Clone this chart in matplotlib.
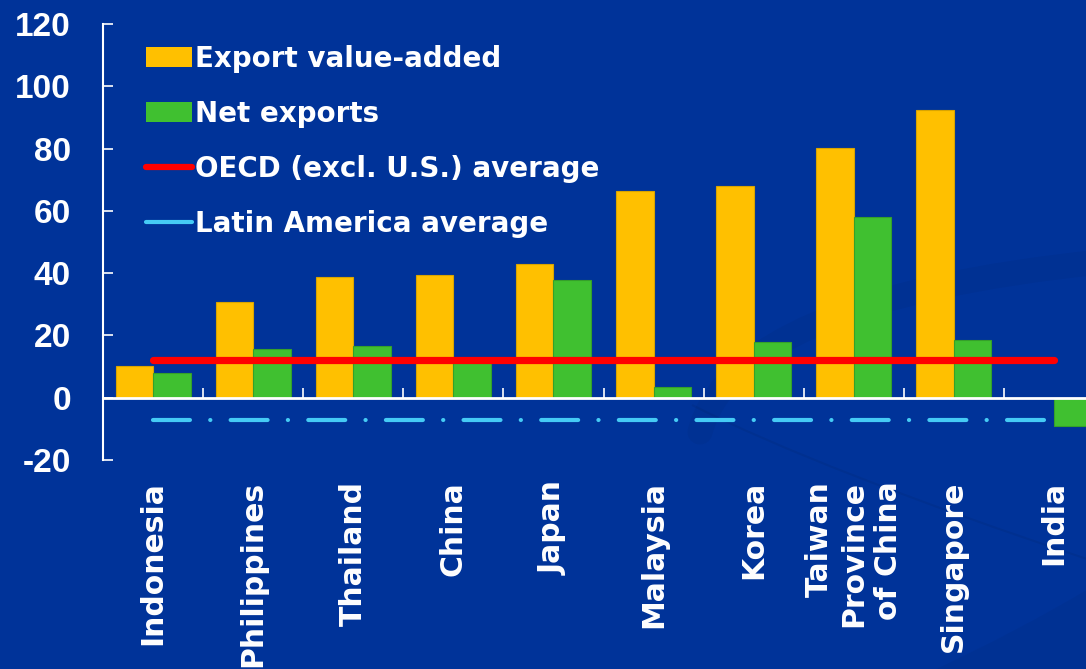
import numpy as np
import matplotlib
matplotlib.use("Agg")
import matplotlib.pyplot as plt
from matplotlib.patches import Patch, PathPatch
from matplotlib.path import Path
from matplotlib.lines import Line2D
from matplotlib.ticker import FixedLocator

# Data
countries = ["Indonesia", "Philippines", "Thailand", "China", "Japan",
             "Malaysia", "Korea", "Taiwan\nProvince\nof China", "Singapore", "India"]
export_value_added = [10.3, 30.8, 38.9, 39.5, 43.0, 66.5, 67.9, 80.2, 92.5, np.nan]
net_exports = [8.0, 15.8, 16.7, 12.0, 37.9, 3.5, 18.0, 58.0, 18.5, -9.2]
oecd_avg = 12.0
latam_avg = -7.0
y_ticks = [-20, 0, 20, 40, 60, 80, 100, 120]

BG = "#003399"
ORANGE = "#FFC000"
GREEN = "#40C030"
RED = "#FF0000"
CYAN = "#45CBF5"

plt.rcParams["lines.scale_dashes"] = False
plt.rcParams["axes.unicode_minus"] = False

W, H = 1086, 669
fig = plt.figure(figsize=(W / 100, H / 100), dpi=100, facecolor=BG)


def px(x, y):
    return (x / W, 1 - y / H)


# Faint background swooshes
swoosh = Path([px(700, 432), px(735, 300), px(1100, 262)],
              [Path.MOVETO, Path.CURVE3, Path.CURVE3])
fig.patches.append(PathPatch(swoosh, transform=fig.transFigure, fill=False,
                             edgecolor="black", alpha=0.04, lw=18,
                             capstyle="round", zorder=-2))
arc = Path([px(692, 405), px(820, 470), px(1090, 560)],
           [Path.MOVETO, Path.CURVE3, Path.CURVE3])
fig.patches.append(PathPatch(arc, transform=fig.transFigure, fill=False,
                             edgecolor="black", alpha=0.06, lw=1.5, zorder=-2))
corner = Path([px(930, 672), px(1020, 630), px(1090, 588), px(1090, 672), px(930, 672)],
              [Path.MOVETO, Path.CURVE3, Path.CURVE3, Path.LINETO, Path.CLOSEPOLY])
fig.patches.append(PathPatch(corner, transform=fig.transFigure, facecolor="black",
                             edgecolor="none", alpha=0.035, zorder=-2))

left, right, top, bottom = 103, 1086, 24, 460
ax = fig.add_axes([left / W, (H - bottom) / H, (right - left) / W, (bottom - top) / H])
ax.set_facecolor("none")

x = np.arange(len(countries))
bw = 0.375
ax.bar(x - bw, export_value_added, width=bw, align="edge", color=ORANGE,
       edgecolor="#D9A400", linewidth=0.8, zorder=2)
ax.bar(x, net_exports, width=bw, align="edge", color=GREEN,
       edgecolor="#35A02A", linewidth=0.8, zorder=2)

# Regional averages
ax.plot(x, [oecd_avg] * len(x), color=RED, lw=5.2, solid_capstyle="round", zorder=4)
ax.plot(x, [latam_avg] * len(x), color=CYAN, lw=3.0,
        linestyle=(0, (26.6, 14.6, 0.1, 14.6)), dash_capstyle="round", zorder=4)

ax.set_xlim(-0.5, 9.32)
ax.set_ylim(-20, 120)

for s in ("top", "right"):
    ax.spines[s].set_visible(False)
ax.spines["bottom"].set_position(("data", 0))
ax.spines["bottom"].set_color("white")
ax.spines["bottom"].set_linewidth(2)
ax.spines["bottom"].set_zorder(3)
ax.spines["left"].set_color("white")
ax.spines["left"].set_linewidth(1.5)

ax.yaxis.set_major_locator(FixedLocator(y_ticks))
ax.tick_params(axis="y", direction="in", length=7, width=1.2, color="white",
               labelcolor="white", pad=23)
for lab in ax.get_yticklabels():
    lab.set_fontfamily("Liberation Sans")
    lab.set_fontweight("bold")
    lab.set_fontsize(24)

ax.set_xticks(x)
ax.set_xticklabels(countries, rotation=90, ha="center", va="top",
                   multialignment="right", fontsize=21.5, fontweight="bold",
                   color="white", family="DejaVu Sans", linespacing=1.25)
ax.xaxis.set_minor_locator(FixedLocator(np.arange(0.5, 9.0, 1.0)))
ax.tick_params(axis="x", which="major", length=0, pad=60)
ax.tick_params(axis="x", which="minor", direction="in", length=7, width=1.2, color="white")

handles = [
    Patch(facecolor=ORANGE, edgecolor="none"),
    Patch(facecolor=GREEN, edgecolor="none"),
    Line2D([], [], color=RED, lw=4.5, solid_capstyle="round"),
    Line2D([], [], color=CYAN, lw=3.0, solid_capstyle="round"),
]
labels = ["Export value-added", "Net exports", "OECD (excl. U.S.) average",
          "Latin America average"]
leg = fig.legend(handles, labels, loc="upper left",
                 bbox_to_anchor=(146 / W, 1 - 45 / H), frameon=False,
                 borderpad=0, borderaxespad=0, handlelength=1.65, handleheight=0.75,
                 handletextpad=0.12, labelspacing=0.97,
                 prop={"family": "DejaVu Sans", "weight": "bold", "size": 20})
for t in leg.get_texts():
    t.set_color("white")

fig.savefig("out.png", dpi=100, facecolor=BG)
